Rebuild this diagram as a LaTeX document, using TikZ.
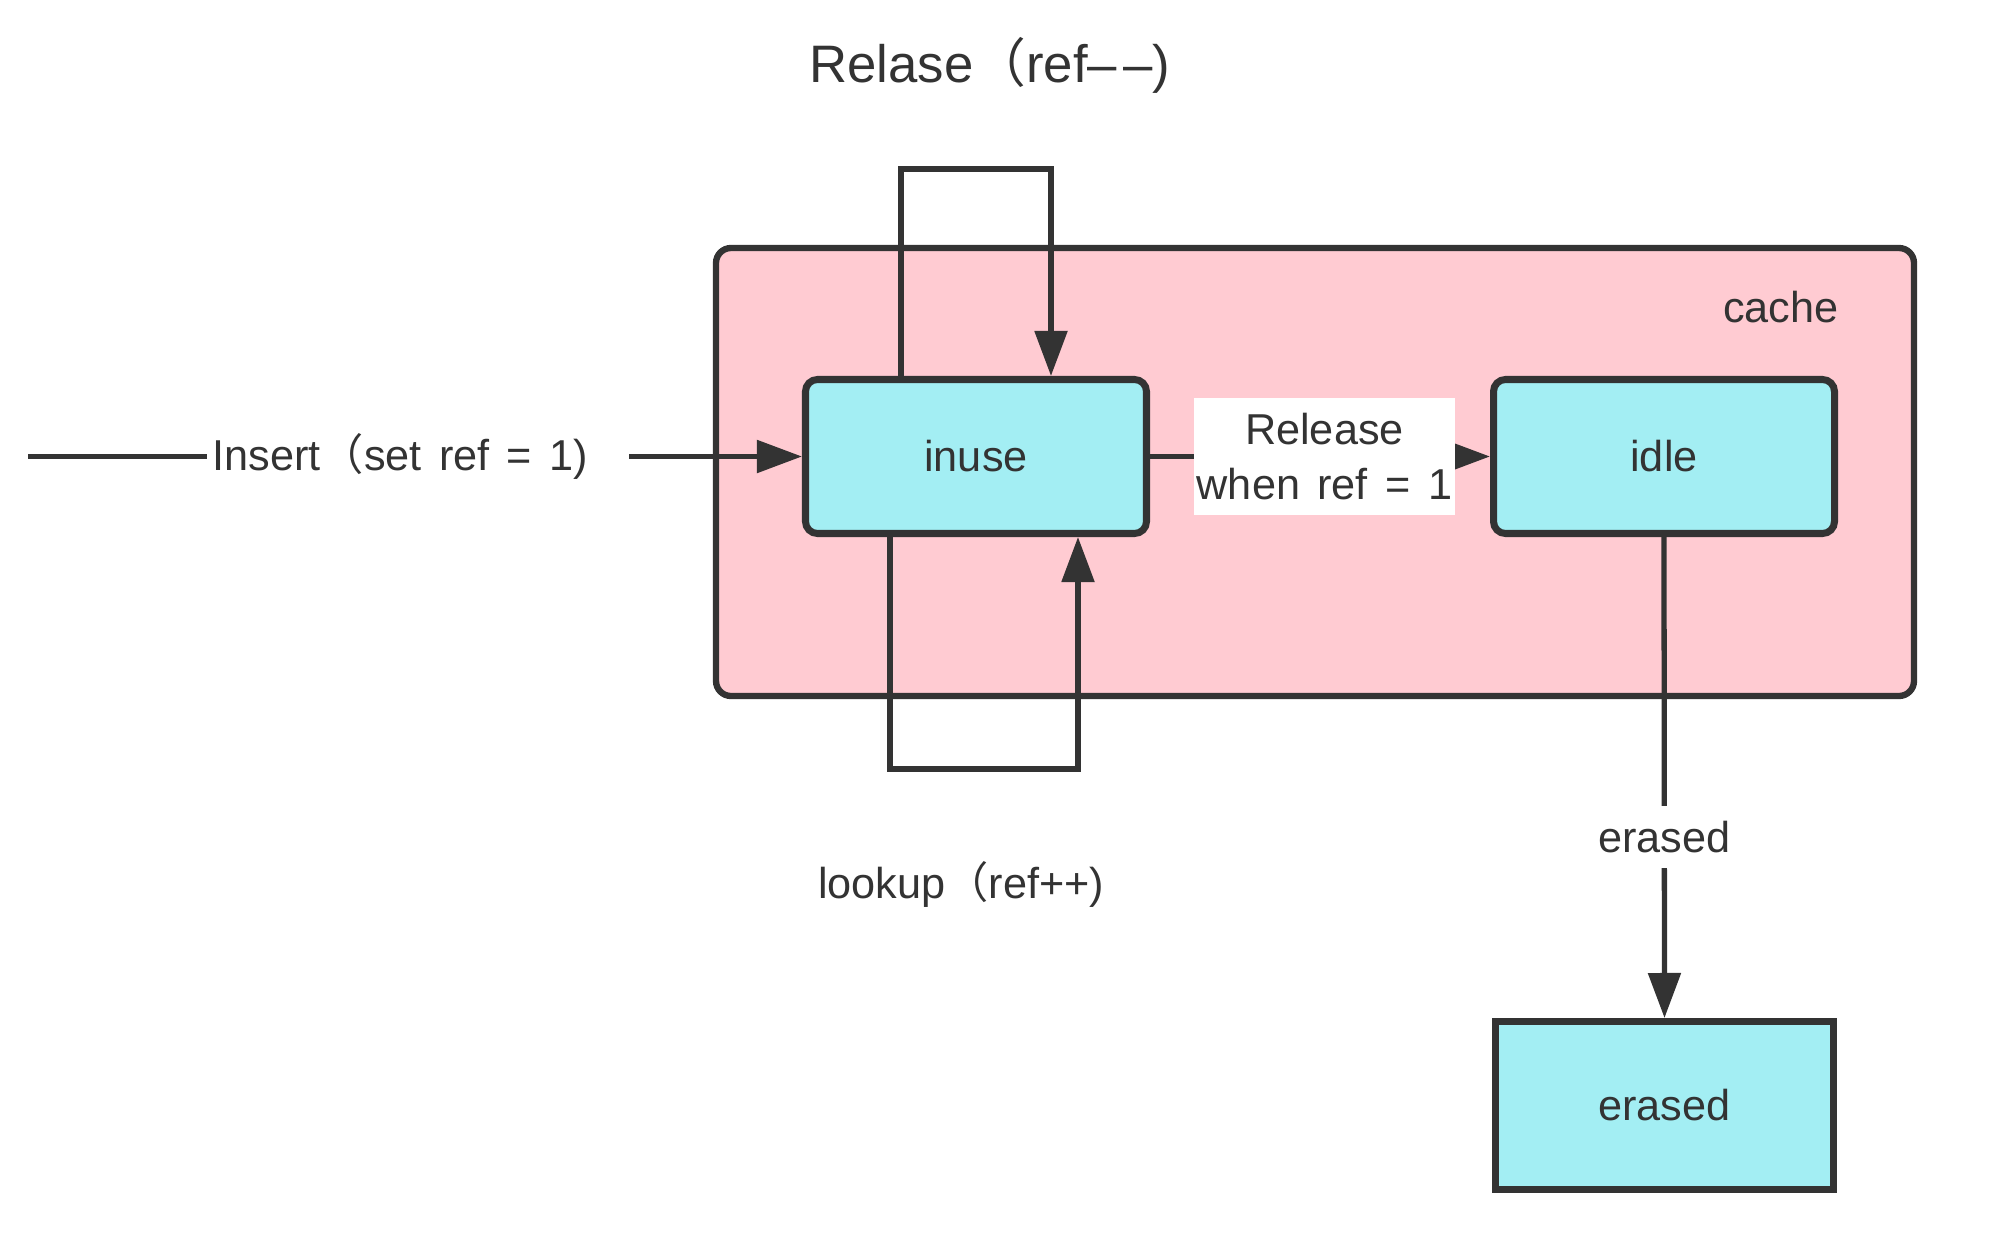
\documentclass[tikz,border=0pt]{standalone}
\usepackage{fontspec}
\setmainfont{Liberation Sans}[WordSpace=1.45]
\newfontfamily\cjk{Noto Sans CJK SC}
\usetikzlibrary{arrows.meta}
\definecolor{cachepink}{RGB}{255,203,210}
\definecolor{stateblue}{RGB}{163,238,243}
\definecolor{linegray}{RGB}{51,51,51}
\newcommand{\fwpar}{{\cjk （}}

\begin{document}
\begin{tikzpicture}[
	state/.style={draw=linegray, line width=2pt, fill=stateblue, rounded corners=0.12cm, minimum width=3.41cm, minimum height=1.54cm, font=\fontsize{12.3}{15.4}\selectfont, text=linegray},
	link/.style={draw=linegray, line width=1.5pt},
	arr/.style={link, -{Triangle[length=4.5mm,width=3.2mm]}},
	lbl/.style={font=\fontsize{12.3}{15.4}\selectfont, text=linegray, inner sep=0pt}]
	\useasboundingbox (0,0) rectangle (20,12.4);
	\node[draw=linegray, line width=1.8pt, fill=cachepink, rounded corners=0.15cm, minimum width=11.98cm, minimum height=4.48cm] (cache) at (13.15,7.68) {};
	\node[lbl, anchor=base] (cachelbl) at (17.81,9.18) {cache};
	\node[state] (inuse) at (9.76,7.835) {inuse};
	\node[state] (idle) at (16.64,7.835) {idle};
	\node[state, rounded corners=0pt, minimum width=3.38cm, minimum height=1.68cm] (erased) at (16.645,1.345) {erased};
	\coordinate (src) at (0.28,7.835);
	\coordinate (insend) at (6.29,7.835);
	\coordinate (relase) at (9.76,10.71);
	\coordinate (lookup) at (9.84,4.71);
	\node[lbl, anchor=west, inner xsep=0.05cm] (inslbl) at (2.07,7.835) {Insert\fwpar set ref = 1)};
	\draw[link] (src) -- (inslbl.west);
	\draw[arr] (insend) -- (inuse.west);
	\draw[arr] (inuse.east) -- node[lbl, fill=white, minimum width=2.61cm, minimum height=1.17cm, align=center, pos=0.513] (rellbl) {Release\\when ref = 1} (idle.west);
	\draw[arr] ([xshift=-0.75cm]inuse.north) |- (relase) -| ([xshift=0.75cm]inuse.north);
	\draw[arr] ([xshift=-0.86cm]inuse.south) |- (lookup) -| ([xshift=1.02cm]inuse.south);
	\draw[arr] (idle.south) -- node[lbl, fill=white, pos=0.624, minimum height=0.62cm, inner xsep=0.1cm] (erlbl) {erased} (erased.north);
	\node[lbl, anchor=base, font=\fontsize{15}{18}\selectfont] (relaselbl) at (9.90,11.57) {Relase\fwpar ref–\kern0.12em–)};
	\node[lbl, anchor=base] (lookuplbl) at (9.61,3.42) {lookup\fwpar ref++)};
\end{tikzpicture}
\end{document}
